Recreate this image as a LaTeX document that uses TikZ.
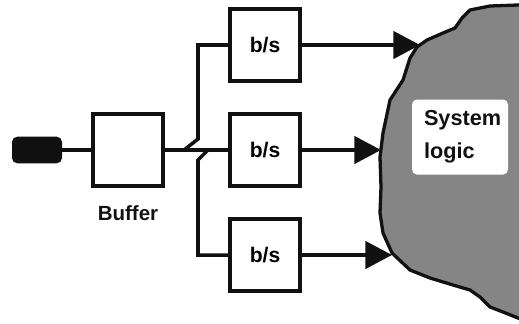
\documentclass[tikz,border=0pt]{standalone}
\usepackage{fontspec}
\setmainfont{Liberation Sans}
\usepackage{xcolor}
\usepackage{tikz}
\usetikzlibrary{arrows.meta,positioning,calc}
\definecolor{ink}{HTML}{111111}
\definecolor{dither}{HTML}{858585}
\tikzset{
  box/.style={draw=ink, fill=white, line width=2.6pt, minimum width=21mm,
              minimum height=21.6mm, inner sep=0pt, font=\fontsize{18}{21}\selectfont\bfseries},
  plug/.style={fill=ink, rounded corners=1.6mm, minimum width=15mm, minimum height=8mm, inner sep=0pt},
  wire/.style={draw=ink, line width=3pt},
  feed/.style={wire, -{Triangle[length=8mm, width=8.2mm]}},
  blob/.style={draw=ink, fill=dither, line width=2.8pt, line join=round},
  lbl/.style={font=\fontsize{17.5}{21}\selectfont\bfseries, text=ink, inner sep=1pt},
}

\begin{document}
\begin{tikzpicture}[x=0.3mm, y=-0.3mm]
  \useasboundingbox (0,0) rectangle (519,323);

  % system logic blob
  \draw[blob] (545,2) -- (518,5) -- (490,6) -- (470,10) -- (462,18) -- (455,28)
    -- (443,33) -- (427,40) -- (417,47) -- (410,58) -- (403,80) -- (390,100)
    -- (383,133) -- (380,157) -- (381,187) -- (380,213) -- (383,233) -- (392,253)
    -- (410,270) -- (430,278) -- (453,285) -- (470,290) -- (480,297) -- (490,307)
    -- (503,312) -- (518,318) -- (545,328) -- cycle;
  \node[lbl, fill=white, rounded corners=1.5mm, text width=21.6mm, inner xsep=3.6mm,
        minimum height=22.5mm, align=left, font=\fontsize{18.5}{28}\selectfont\bfseries]
    (sys) at (460,137) {System\\logic};
  \coordinate (in1) at (420,45);
  \coordinate (in2) at (381,150);
  \coordinate (in3) at (392,255);

  \node[plug] (src) at (37,150) {};
  \node[box] (buf) at (128,150) {};
  \node[lbl] (buflbl) at (128,213) {Buffer};

  \node[box] (bs1) at (265,45) {b/s};
  \node[box] (bs2) at (265,150) {b/s};
  \node[box] (bs3) at (265,255) {b/s};

  \coordinate (jup) at (184,150);
  \coordinate (jdn) at (208,150);

  \draw[wire] (src) -- (buf);
  \draw[wire] (buf) -- (bs2);
  \draw[wire] (jup) -- ++(14,-11) |- (bs1);
  \draw[wire] (jdn) -- ++(-10,10) |- (bs3);

  \draw[feed] (bs1) -- (in1);
  \draw[feed] (bs2) -- (in2);
  \draw[feed] (bs3) -- (in3);
\end{tikzpicture}
\end{document}
